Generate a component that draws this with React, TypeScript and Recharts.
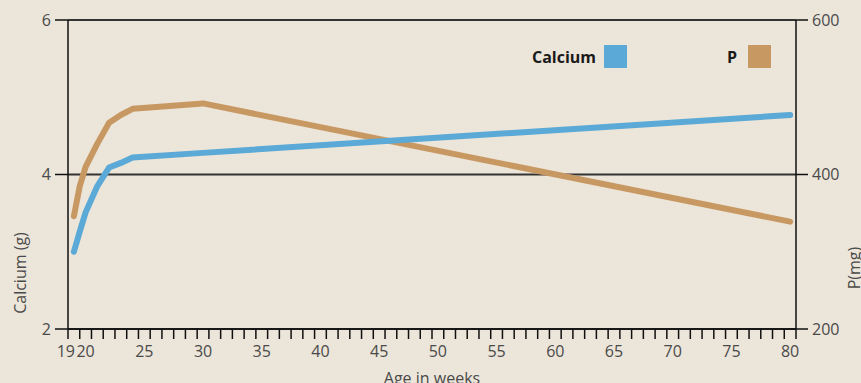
import { CartesianGrid, Label, Line, LineChart, XAxis, YAxis } from "recharts";

const weeks = [19, 19.5, 20, 21, 22, 23, 24, 30, 80];
const calcium = [3.0, 3.26, 3.51, 3.85, 4.09, 4.15, 4.22, 4.28, 4.77];
const phosphorus = [346, 385, 410, 440, 467, 477, 485, 492, 339];

const labelWeeks = [19, 20, 25, 30, 35, 40, 45, 50, 55, 60, 65, 70, 75, 80];
// minor tick marks sit between the week labels
const markWeeks = Array.from({ length: 63 }, (_, i) => 18.5 + i);
const calciumTicks = [2, 4, 6];
const pTicks = [200, 400, 600];

const FONT = "'Open Sans', 'Noto Sans', sans-serif";
const INK = "#4a4a4a";
const BLUE = "#5aa9d6";
const TAN = "#c89863";

const data = weeks.map((w, i) => ({ week: w, calcium: calcium[i], p: phosphorus[i] }));

function WeekTick(props: any) {
  const { x, y, payload } = props;
  // "19" is nudged left so it doesn't collide with "20"
  const dx = payload.value === 19 ? -8 : 0;
  return (
    <text x={x + dx} y={y} dy="0.71em" textAnchor="middle" fontSize={16} fontFamily={FONT} fill={INK}>
      {payload.value}
    </text>
  );
}

const NoLabel = () => <g />;

export default function App() {
  return (
    <div
      style={{
        position: "absolute",
        left: 0,
        top: 0,
        width: 861,
        height: 383,
        overflow: "hidden",
        background: "#ece5d9",
        fontFamily: FONT,
      }}
    >
      <LineChart width={861} height={383} data={data} margin={{ top: 20, right: 0, bottom: 0, left: 0 }}>
        <CartesianGrid vertical={false} yAxisId="ca" xAxisId={1} stroke="#333" strokeWidth={1.8} />
        <XAxis
          xAxisId={0}
          type="number"
          dataKey="week"
          domain={[18.5, 80.5]}
          ticks={markWeeks}
          interval={0}
          tick={<NoLabel />}
          tickSize={10}
          height={1}
          axisLine={{ stroke: "#111", strokeWidth: 1.5 }}
          tickLine={{ stroke: "#111", strokeWidth: 1.5 }}
        />
        <XAxis
          xAxisId={1}
          type="number"
          dataKey="week"
          domain={[18.5, 80.5]}
          ticks={labelWeeks}
          interval={0}
          tick={<WeekTick />}
          tickSize={10}
          tickMargin={6}
          height={53}
          axisLine={false}
          tickLine={false}
        >
          <Label
            content={(p: any) => (
              <text
                x={p.viewBox.x + p.viewBox.width / 2}
                y={p.viewBox.y + 54}
                textAnchor="middle"
                fontSize={16}
                fontFamily={FONT}
                fill={INK}
              >
                Age in weeks
              </text>
            )}
          />
        </XAxis>
        <YAxis
          yAxisId="ca"
          domain={[2, 6]}
          ticks={calciumTicks}
          interval={0}
          width={68}
          tickSize={13}
          tickMargin={4}
          tick={{ fontSize: 16, fontFamily: FONT, fill: INK }}
          axisLine={{ stroke: "#111", strokeWidth: 1.5 }}
          tickLine={{ stroke: "#111", strokeWidth: 1.5 }}
        >
          <Label
            content={(p: any) => (
              <text
                transform={`translate(${p.viewBox.x + 20}, ${p.viewBox.y + 253}) rotate(-90)`}
                textAnchor="middle"
                dominantBaseline="central"
                fontSize={16}
                fontFamily={FONT}
                fill={INK}
              >
                Calcium (g)
              </text>
            )}
          />
        </YAxis>
        <YAxis
          yAxisId="p"
          orientation="right"
          domain={[200, 600]}
          ticks={pTicks}
          interval={0}
          width={65}
          tickSize={12}
          tickMargin={4}
          tick={{ fontSize: 16, fontFamily: FONT, fill: INK }}
          axisLine={{ stroke: "#111", strokeWidth: 1.5 }}
          tickLine={{ stroke: "#111", strokeWidth: 1.5 }}
        >
          <Label
            content={(p: any) => (
              <text
                transform={`translate(${p.viewBox.x + 58}, ${p.viewBox.y + 248}) rotate(-90)`}
                textAnchor="middle"
                dominantBaseline="central"
                fontSize={16}
                fontFamily={FONT}
                fill={INK}
              >
                P(mg)
              </text>
            )}
          />
        </YAxis>
        <Line
          xAxisId={1}
          yAxisId="p"
          dataKey="p"
          type="linear"
          stroke={TAN}
          strokeWidth={6}
          strokeLinecap="round"
          strokeLinejoin="round"
          dot={false}
          activeDot={false}
          isAnimationActive={false}
        />
        <Line
          xAxisId={1}
          yAxisId="ca"
          dataKey="calcium"
          type="linear"
          stroke={BLUE}
          strokeWidth={6}
          strokeLinecap="round"
          strokeLinejoin="round"
          dot={false}
          activeDot={false}
          isAnimationActive={false}
        />
      </LineChart>
      <div style={{ position: "absolute", left: 532, top: 45, display: "flex", alignItems: "center", fontWeight: 700, fontSize: 16, color: "#1a1a1a" }}>
        <span>Calcium</span>
        <span style={{ display: "inline-block", width: 23, height: 23, background: BLUE, marginLeft: 8 }} />
        <span style={{ marginLeft: 100 }}>P</span>
        <span style={{ display: "inline-block", width: 23, height: 23, background: TAN, marginLeft: 11 }} />
      </div>
    </div>
  );
}
